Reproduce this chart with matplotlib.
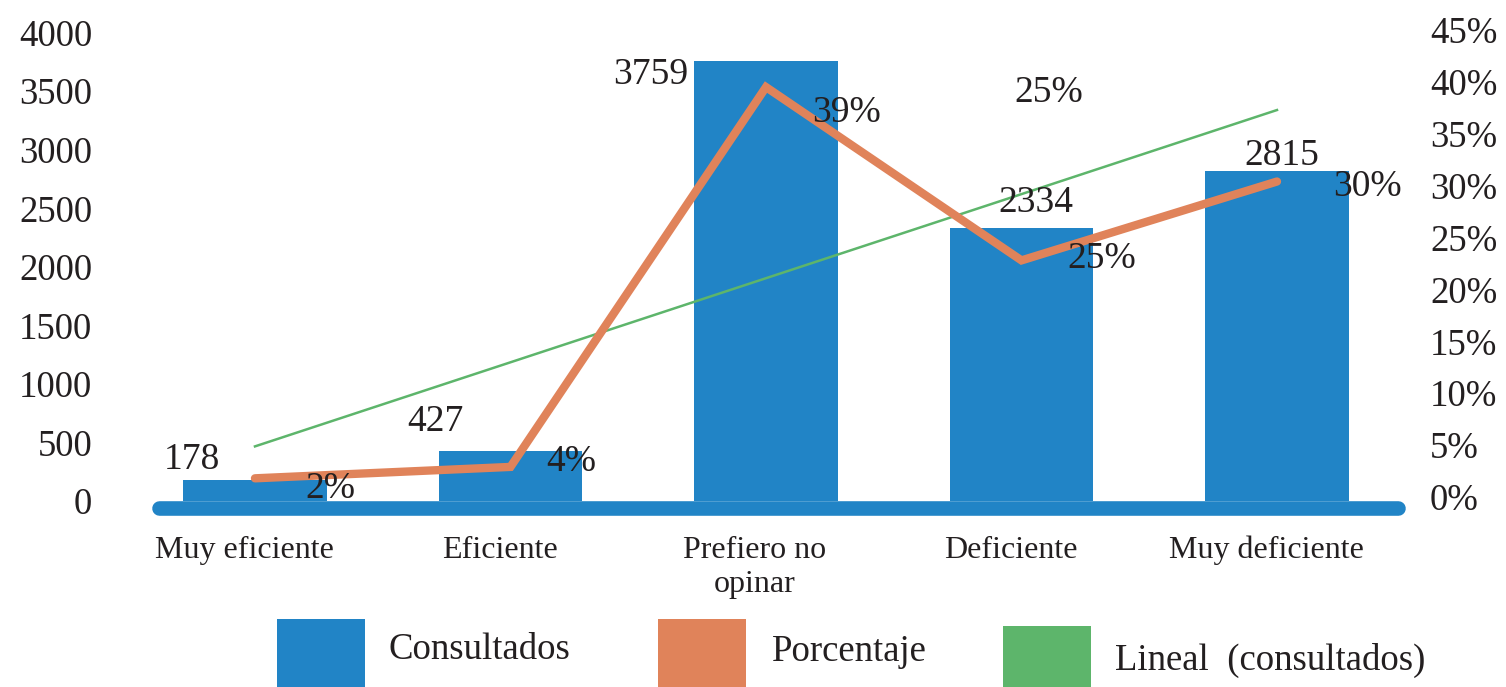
import matplotlib.pyplot as plt
import numpy as np
from matplotlib.patches import Rectangle
from matplotlib.transforms import ScaledTranslation

plt.rcParams['font.family'] = ['Liberation Serif', 'DejaVu Serif']

# data
categorias = ['Muy eficiente', 'Eficiente', 'Prefiero no\nopinar', 'Deficiente', 'Muy deficiente']
consultados = [178, 427, 3759, 2334, 2815]
porcentaje = [1.8, 2.9, 39.5, 22.8, 30.4]          # where the orange line is drawn
porcentaje_txt = ['2%', '4%', '39%', '25%', '30%']  # labels as printed
ticks_izq = [0, 500, 1000, 1500, 2000, 2500, 3000, 3500, 4000]
ticks_der = [0, 5, 10, 15, 20, 25, 30, 35, 40, 45]

azul = '#2184C6'
naranja = '#E0835A'
verde = '#5DB56B'
texto = '#231F20'

W, H = 1506, 687
fig = plt.figure(figsize=(W / 100, H / 100), dpi=100)

def px(x0, y0, x1, y1):
    # pixel box (top-left origin) -> figure fraction rect
    return [x0 / W, 1 - y1 / H, (x1 - x0) / W, (y1 - y0) / H]

ax = fig.add_axes(px(152, 32.6, 1405, 501))
ax2 = fig.add_axes(px(152, 30, 1405, 497), sharex=ax)
ax2.patch.set_visible(False)

x = np.arange(len(categorias))
ax.bar(x, consultados, width=0.56, color=azul, zorder=2)
ax.set_xlim(-0.403, 4.501)
ax.set_ylim(0, 4000)

# thick baseline with round caps
ax.plot([-0.376, 4.474], [-60, -60], color=azul, lw=10.5, solid_capstyle='round',
        clip_on=False, zorder=3)

# linear trend of the counts
m, b = np.polyfit(x, consultados, 1)
ax.plot(x, m * x + b, color=verde, lw=1.8, zorder=4)

ax2.plot(x, porcentaje, color=naranja, lw=6, solid_capstyle='round',
         solid_joinstyle='miter', zorder=5)
ax2.set_ylim(0, 45)

# data labels (offsets in pixels from the mark)
off_cons = [(-63, 20), (-75, 29), (-115, -14), (14, 25), (5, 16)]
for i, v in enumerate(consultados):
    ax.annotate(str(v), (i, v), xytext=off_cons[i], textcoords='offset pixels',
                ha='center', va='center', fontsize=27, color=texto, zorder=6)

off_pct = [(75, -10), (61, 5), (81, -26), (80, 2), (90, -5)]
for i, v in enumerate(porcentaje):
    ax2.annotate(porcentaje_txt[i], (i, v), xytext=off_pct[i], textcoords='offset pixels',
                 ha='center', va='center', fontsize=27, color=texto, zorder=6)
# stray label left by the original chart
ax2.annotate('25%', (3, porcentaje[3]), xytext=(27, 168), textcoords='offset pixels',
             ha='center', va='center', fontsize=27, color=texto)

for a in (ax, ax2):
    for s in a.spines.values():
        s.set_visible(False)

ax.set_yticks(ticks_izq)
ax.set_yticklabels([str(t) for t in ticks_izq])
ax.tick_params(axis='y', length=0, pad=43, labelsize=26.5, labelcolor=texto)
ax.set_xticks(x)
ax.set_xticklabels(categorias, linespacing=1.25)
ax.tick_params(axis='x', length=0, pad=25, labelsize=23, labelcolor=texto)
shift = ScaledTranslation(-11 / 100, 0, fig.dpi_scale_trans)
for lab in ax.get_xticklabels():
    lab.set_transform(lab.get_transform() + shift)

ax2.yaxis.tick_right()
ax2.set_yticks(ticks_der)
ax2.set_yticklabels([f'{t}%' for t in ticks_der])
ax2.tick_params(axis='y', length=0, pad=18, labelsize=26.5, labelcolor=texto)
ax2.tick_params(axis='x', bottom=False, labelbottom=False)

# legend drawn by hand, squares run off the bottom edge
leyenda = [('Consultados', azul, 277, 619, 388, 650),
           ('Porcentaje', naranja, 658, 619, 772, 652),
           ('Lineal  (consultados)', verde, 1003, 626, 1115, 660)]
for nombre, col, x0, y0, tx, ty in leyenda:
    fig.add_artist(Rectangle((x0 / W, 0), 88 / W, (H - y0) / H,
                             transform=fig.transFigure, color=col, lw=0))
    fig.text(tx / W, 1 - ty / H, nombre, fontsize=26.5, color=texto,
             ha='left', va='center')

fig.savefig('out.png', dpi=100)
